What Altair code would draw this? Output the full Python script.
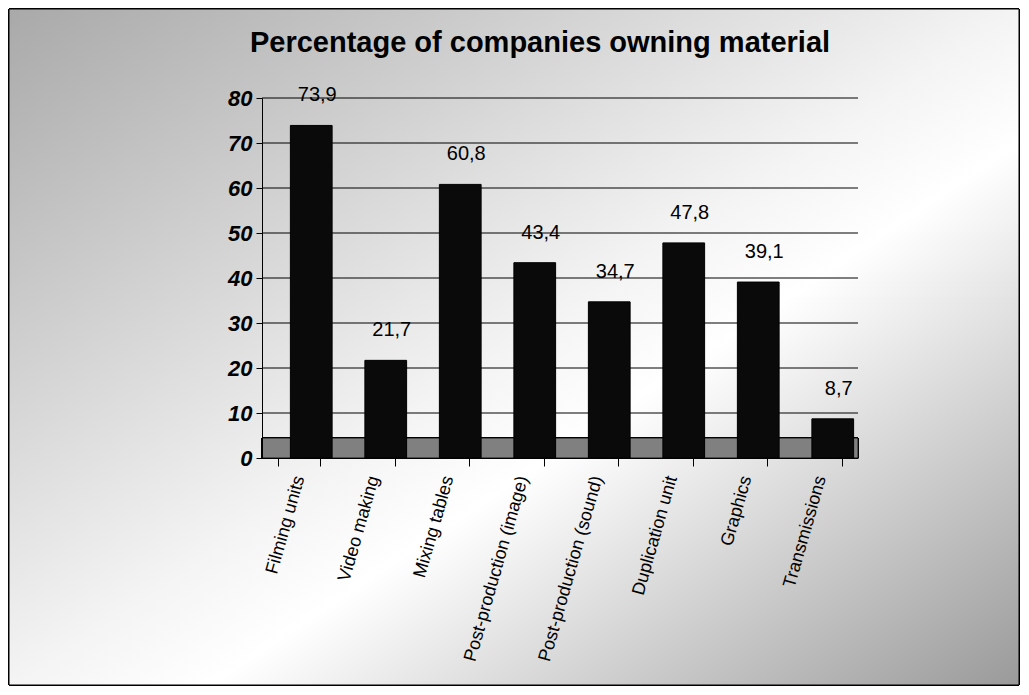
import altair as alt
import pandas as pd

categories = ["Filming units", "Video making", "Mixing tables", "Post-production (image)",
              "Post-production (sound)", "Duplication unit", "Graphics", "Transmissions"]
values = [73.9, 21.7, 60.8, 43.4, 34.7, 47.8, 39.1, 8.7]
value_labels = ["73,9", "21,7", "60,8", "43,4", "34,7", "47,8", "39,1", "8,7"]
grid_values = [10, 20, 30, 40, 50, 60, 70, 80]
title_text = "Percentage of companies owning material"

df = pd.DataFrame({"cat": categories, "val": values, "lab": value_labels})
gdf = pd.DataFrame({"g": grid_values})
tdf = pd.DataFrame({"t": [title_text]})

W, H = 596, 360
PL, PT, PR, PB = 254, 90, 162, 228

bg = alt.Chart(df).mark_rect(
    clip=False, stroke="black", strokeWidth=1,
    color=alt.Gradient(
        gradient="linear",
        stops=[alt.GradientStop(color="#a9a9a9", offset=0),
               alt.GradientStop(color="#f4f4f4", offset=0.5),
               alt.GradientStop(color="#ffffff", offset=0.6),
               alt.GradientStop(color="#9a9a9a", offset=1)],
        x1=0, x2=1, y1=0, y2=1)
).encode(
    x=alt.value(-PL + 1), x2=alt.value(W + PR - 1),
    y=alt.value(-PT + 1), y2=alt.value(H + PB - 1)
)

grid = alt.Chart(gdf).mark_rule(color="black", strokeWidth=1).encode(
    y=alt.Y("g:Q", scale=alt.Scale(domain=[0, 80])),
    x=alt.value(0), x2=alt.value(W)
)

floor = alt.Chart(df).mark_rect(color="#808080", stroke="black", strokeWidth=0.8).encode(
    x=alt.value(0), x2=alt.value(W), y=alt.value(H - 20), y2=alt.value(H)
)

xenc = alt.X("cat:N", sort=categories, title=None,
             scale=alt.Scale(paddingInner=0.44, paddingOuter=0.22),
             axis=alt.Axis(labelAngle=-74, labelFontSize=18, labelFont="Liberation Sans",
                           labelColor="black", labelAlign="right", labelBaseline="middle",
                           labelPadding=10, tickBand="extent", tickSize=8, tickColor="black",
                           domainColor="black", labelLimit=300, zindex=2))
yenc = alt.Y("val:Q", title=None,
             scale=alt.Scale(domain=[0, 80]),
             axis=alt.Axis(values=list(range(0, 81, 10)), labelFontSize=22, grid=False,
                           labelFont="Liberation Sans", labelFontWeight="bold",
                           labelFontStyle="italic", labelColor="black", tickColor="black",
                           tickSize=6, domainColor="black", labelPadding=4, zindex=2))

bars = alt.Chart(df).mark_bar(color="#0a0a0a", stroke="black", xOffset=12).encode(x=xenc, y=yenc)

labels = alt.Chart(df).mark_text(
    dy=-30, dx=18, fontSize=20, font="Liberation Sans", color="black"
).encode(x=alt.X("cat:N", sort=categories), y="val:Q", text="lab:N")

title = alt.Chart(tdf).mark_text(
    fontSize=29, font="Liberation Sans", fontWeight="bold", color="black", clip=False
).encode(x=alt.value(278), y=alt.value(-55), text="t:N")

chart = alt.layer(bg, grid, floor, bars, labels, title).properties(
    width=W, height=H,
    padding={"left": PL, "top": PT, "right": PR, "bottom": PB},
    autosize=alt.AutoSizeParams(type="none")
).configure_view(stroke="black", strokeWidth=1).configure(background="white")

chart.save("out.html", embed_options={"renderer": "svg", "actions": False})
